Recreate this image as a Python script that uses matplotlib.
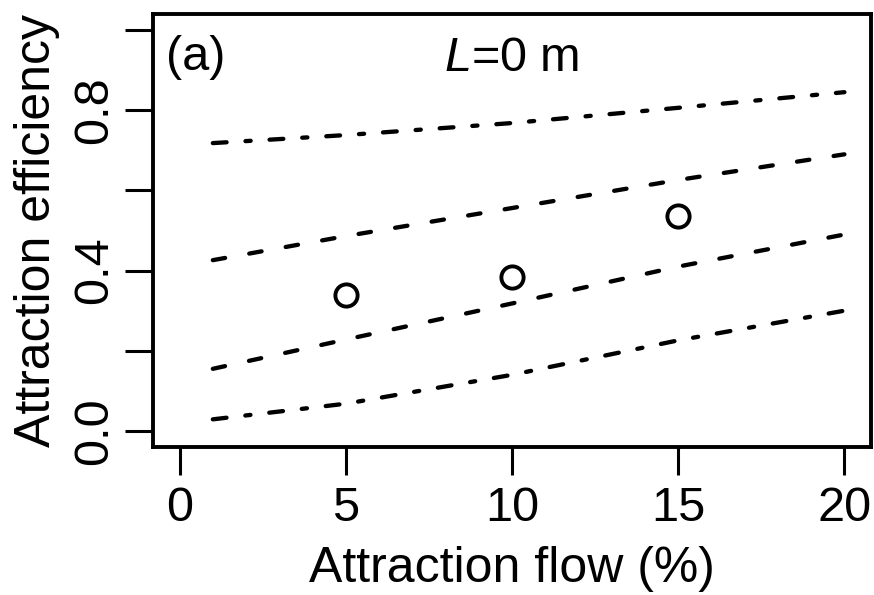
import matplotlib
matplotlib.use("Agg")
import matplotlib.pyplot as plt

plt.rcParams['font.family'] = ['Liberation Sans', 'DejaVu Sans']
plt.rcParams['mathtext.fontset'] = 'custom'
plt.rcParams['mathtext.it'] = 'Liberation Sans:italic'
plt.rcParams['mathtext.rm'] = 'Liberation Sans'

# observed points
obs_flow = [5, 10, 15]
obs_eff = [0.338, 0.384, 0.535]

# bands
band_flow = [1, 5, 10, 15, 20]
upper_outer = [0.718, 0.738, 0.768, 0.806, 0.845]
upper_inner = [0.426, 0.486, 0.556, 0.626, 0.690]
lower_inner = [0.155, 0.228, 0.318, 0.410, 0.490]
lower_outer = [0.029, 0.068, 0.140, 0.226, 0.300]

xticks = [0, 5, 10, 15, 20]
yticks = [0.0, 0.2, 0.4, 0.6, 0.8, 1.0]
ylabels = ['0.0', '', '0.4', '', '0.8', '']

fig = plt.figure(figsize=(8.74, 5.95), dpi=100)
ax = fig.add_axes([153/874, 1 - 447/595, 718/874, 433/595])

lw = 3.1
dash = (2.9, 5.7)
dotdash = (3.2, 4.4, 1.2, 4.4)
for ys, pat in [(upper_outer, dotdash), (upper_inner, dash),
                (lower_inner, dash), (lower_outer, dotdash)]:
    ax.plot(band_flow, ys, color='black', lw=lw, dashes=pat,
            dash_capstyle='round')

ax.plot(obs_flow, obs_eff, 'o', ms=16, mfc='none', mec='black', mew=2.8)

ax.set_xlim(-0.8, 20.8)
ax.set_ylim(-0.04, 1.04)
ax.set_xticks(xticks)
ax.set_xticklabels([str(v) for v in xticks], fontsize=35)
ax.set_yticks(yticks)
ax.set_yticklabels(ylabels, fontsize=35, rotation=90, va='center')
ax.tick_params(axis='both', length=20, width=2.2, direction='out')
ax.tick_params(axis='x', pad=8)
ax.tick_params(axis='y', pad=6)
for s in ax.spines.values():
    s.set_linewidth(2.8)

ax.set_xlabel('Attraction flow (%)', fontsize=36, va='baseline')
ax.xaxis.set_label_coords(0.5, -0.312)
ax.set_ylabel('Attraction efficiency', fontsize=36)
ax.yaxis.set_label_coords(-0.13, 0.5)

ax.text(0.018, 0.871, '(a)', transform=ax.transAxes, fontsize=35,
        ha='left', va='baseline')
ax.text(10, 0.897, '$\\mathit{L}$=0 m', fontsize=35, ha='center', va='baseline')

fig.savefig('out.png', dpi=100)
